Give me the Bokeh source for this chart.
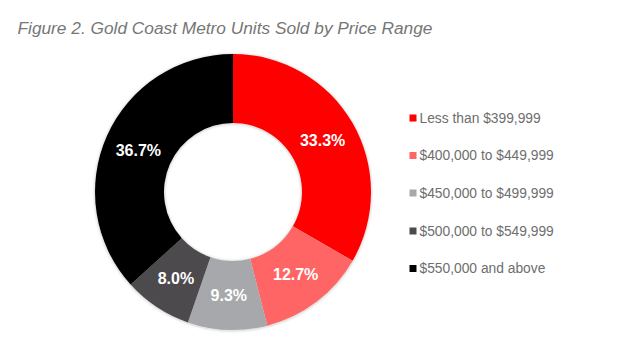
import math
from bokeh.plotting import figure
from bokeh.models import Range1d, ColumnDataSource
from bokeh.core.properties import value
from bokeh.embed import file_html
from bokeh.resources import INLINE

title_text = "Figure 2. Gold Coast Metro Units Sold by Price Range"
categories = ["Less than $399,999", "$400,000 to $449,999", "$450,000 to $499,999",
              "$500,000 to $549,999", "$550,000 and above"]
shares = [33.3, 12.7, 9.3, 8.0, 36.7]
colors = ["#FF0000", "#FF6565", "#A7A8AB", "#4D4A4E", "#000000"]

W, H = 618, 363
p = figure(width=W, height=H, output_backend="svg", toolbar_location=None,
           x_range=Range1d(0, W), y_range=Range1d(0, H), min_border=0)
p.axis.visible = False
p.grid.visible = False
p.outline_line_color = None
p.background_fill_color = "white"
p.border_fill_color = "white"

def fy(img_y):
    return H - img_y

cx, cy = 232.5, fy(191.5)
r_out, r_in = 138, 69

total = sum(shares)
starts, ends, lx, ly, labels = [], [], [], [], []
acc = 0.0
for s in shares:
    a0 = math.pi / 2 - 2 * math.pi * acc / total
    a1 = math.pi / 2 - 2 * math.pi * (acc + s) / total
    starts.append(a1)
    ends.append(a0)
    mid = (a0 + a1) / 2
    rm = (r_out + r_in) / 2
    lx.append(cx + rm * math.cos(mid))
    ly.append(cy + rm * math.sin(mid))
    labels.append(f"{s:.1f}%")
    acc += s

# soft shadow
for i, a in enumerate([0.05, 0.035, 0.02]):
    p.annular_wedge(x=cx, y=cy - 0.5, inner_radius=r_in - 1 - i, outer_radius=r_out + 1 + i,
                    start_angle=0, end_angle=2 * math.pi,
                    inner_radius_units="screen", outer_radius_units="screen",
                    fill_color="#000000", fill_alpha=a, line_color=None)

src = ColumnDataSource(dict(start=starts, end=ends, color=colors))
p.annular_wedge(x=cx, y=cy, inner_radius=r_in, outer_radius=r_out,
                inner_radius_units="screen", outer_radius_units="screen",
                start_angle="start", end_angle="end", fill_color="color",
                line_color=None, source=src)

p.text(x=lx, y=ly, text=labels, text_color="white", text_font=value("Liberation Sans"),
       text_font_style="bold", text_font_size="16px", text_align="center",
       text_baseline="middle")

# legend
leg_y_img = [117.5, 155.0, 192.5, 230.5, 268.0]
leg_y = [fy(v) for v in leg_y_img]
p.scatter(x=[412.5] * 5, y=leg_y, marker="square", size=7, fill_color=colors,
          line_color=None)
p.text(x=[419] * 5, y=leg_y, text=categories, text_color="#6E6E6E",
       text_font=value("Liberation Sans"), text_font_size="13.8px", text_align="left",
       text_baseline="middle")

# title
p.text(x=[17], y=[fy(27)], text=[title_text], text_color="#767676",
       text_font=value("Liberation Sans"), text_font_style="italic", text_font_size="17.3px",
       text_align="left", text_baseline="alphabetic")

open("out.html", "w").write(file_html(p, INLINE))
